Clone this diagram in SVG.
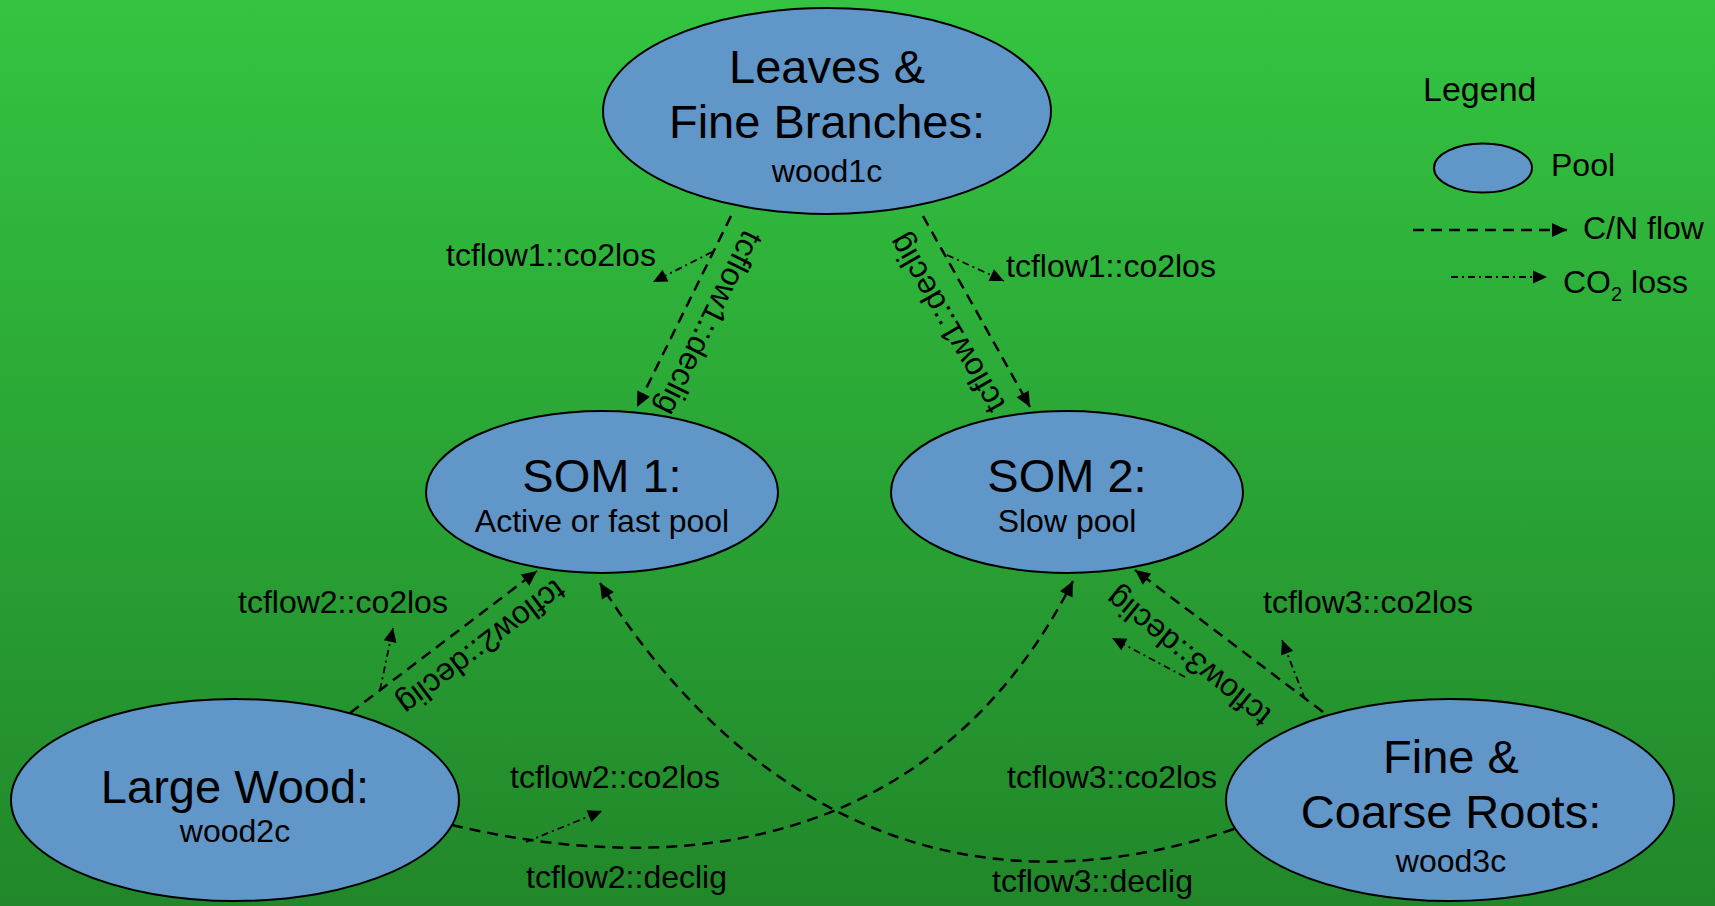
<svg xmlns="http://www.w3.org/2000/svg" width="1715" height="906" viewBox="0 0 1715 906">
<defs>
<linearGradient id="bg" x1="0" y1="0" x2="0" y2="1">
<stop offset="0" stop-color="#34c441"/>
<stop offset="1" stop-color="#21872a"/>
</linearGradient>
<marker id="ah" markerUnits="userSpaceOnUse" markerWidth="16" markerHeight="16" refX="15" refY="7" orient="auto" overflow="visible">
<path d="M0,0 L15,7 L0,14 z" fill="#000"/>
</marker>
<marker id="ah2" markerUnits="userSpaceOnUse" markerWidth="15" markerHeight="15" refX="14" refY="6.5" orient="auto" overflow="visible">
<path d="M0,0 L14,6.5 L0,13 z" fill="#000"/>
</marker>
<style>
.pool{fill:#6196c8;stroke:#000;stroke-width:2}
.t{font-family:"Liberation Sans",Arial,sans-serif;fill:#000}
.big{font-size:47px;text-anchor:middle}
.sm{font-size:32px;text-anchor:middle}
.lb{font-size:32px}
.rl{font-size:32px;text-anchor:middle}
.flow{fill:none;stroke:#000;stroke-width:2.5;stroke-dasharray:11 7;marker-end:url(#ah)}
.co2{fill:none;stroke:#000;stroke-width:1.8;stroke-dasharray:7 4 2 4;marker-end:url(#ah2)}
</style>
</defs>
<rect x="0" y="0" width="1715" height="906" fill="url(#bg)"/>

<g id="connectors">
<line class="flow" x1="731" y1="216" x2="637" y2="407"/>
<line class="flow" x1="923" y1="216" x2="1030" y2="407"/>
<line class="co2" x1="712" y1="252" x2="653" y2="282"/>
<line class="co2" x1="947" y1="255" x2="1004" y2="281"/>
<line class="flow" x1="350" y1="713" x2="537" y2="571"/>
<line class="co2" x1="380" y1="690" x2="393" y2="628"/>
<line class="flow" x1="1323" y1="712" x2="1135" y2="570"/>
<line class="co2" x1="1305" y1="699" x2="1282" y2="640"/>
<line class="co2" x1="1185" y1="677" x2="1112" y2="638"/>
<path class="flow" d="M452,825 C744,894 960,804 1073,581"/>
<line class="co2" x1="526" y1="842" x2="602" y2="811"/>
<path class="flow" d="M1234,829 C912,938 705,753 600,583"/>

<text class="t lb" x="446" y="266">tcflow1::co2los</text>
<text class="t lb" x="1006" y="277">tcflow1::co2los</text>
<text class="t rl" transform="translate(707,322) rotate(116.2)" x="0" y="8">tcflow1::declig</text>
<text class="t rl" transform="translate(949,322) rotate(240)" x="0" y="8">tcflow1::declig</text>
<text class="t lb" x="238" y="613">tcflow2::co2los</text>
<text class="t rl" transform="translate(480,645) rotate(142.8)" x="0" y="8">tcflow2::declig</text>
<text class="t lb" x="1263" y="613">tcflow3::co2los</text>
<text class="t rl" transform="translate(1190,655) rotate(219)" x="0" y="8">tcflow3::declig</text>
<text class="t lb" x="510" y="788">tcflow2::co2los</text>
<text class="t lb" x="1007" y="788">tcflow3::co2los</text>
<text class="t lb" x="526" y="888">tcflow2::declig</text>
<text class="t lb" x="992" y="892">tcflow3::declig</text>
</g>

<g id="leaves">
<ellipse class="pool" cx="827" cy="111" rx="224" ry="103"/>
<text class="t big" x="827" y="83">Leaves &amp;</text>
<text class="t big" x="827" y="138">Fine Branches:</text>
<text class="t sm" x="827" y="182">wood1c</text>
</g>

<g id="som1">
<ellipse class="pool" cx="602" cy="492" rx="176" ry="81"/>
<text class="t big" x="602" y="492">SOM 1:</text>
<text class="t sm" x="602" y="532">Active or fast pool</text>
</g>

<g id="som2">
<ellipse class="pool" cx="1067" cy="492" rx="176" ry="81"/>
<text class="t big" x="1067" y="492">SOM 2:</text>
<text class="t sm" x="1067" y="532">Slow pool</text>
</g>

<g id="largewood">
<ellipse class="pool" cx="235" cy="800" rx="224" ry="101"/>
<text class="t big" x="235" y="803">Large Wood:</text>
<text class="t sm" x="235" y="842">wood2c</text>
</g>

<g id="roots">
<ellipse class="pool" cx="1450" cy="800" rx="224" ry="101"/>
<text class="t big" x="1451" y="773">Fine &amp;</text>
<text class="t big" x="1451" y="828">Coarse Roots:</text>
<text class="t sm" x="1451" y="872">wood3c</text>
</g>

<g id="legend">
<text class="t" x="1423" y="101" font-size="34">Legend</text>
<ellipse class="pool" cx="1483" cy="168" rx="49" ry="24.5"/>
<text class="t lb" x="1551" y="176" font-size="31">Pool</text>
<line class="flow" x1="1413" y1="230" x2="1567" y2="230"/>
<text class="t lb" x="1583" y="239">C/N flow</text>
<line class="co2" x1="1451" y1="277" x2="1547" y2="277"/>
<text class="t lb" x="1563" y="293">CO<tspan font-size="20" dy="8">2</tspan><tspan dy="-8"> loss</tspan></text>
</g>
</svg>
